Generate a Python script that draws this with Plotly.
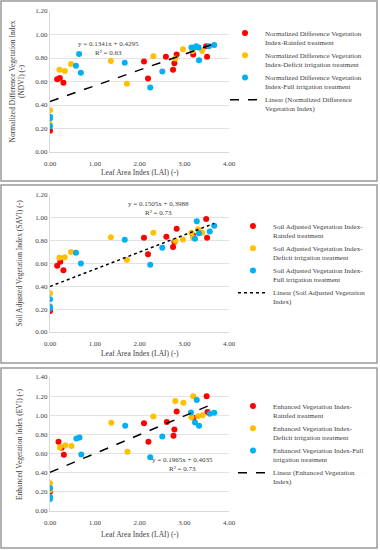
import plotly.graph_objects as go

W, H = 380, 550

# ---------------- data ----------------
# Panel 1: NDVI
ndvi_rain_lai = [0.00, 0.16, 0.22, 0.30, 2.10, 2.19, 2.59, 2.75, 2.78, 2.83, 3.20, 3.49, 3.51]
ndvi_rain_val = [0.18, 0.62, 0.63, 0.59, 0.77, 0.625, 0.81, 0.70, 0.755, 0.83, 0.83, 0.90, 0.81]
ndvi_def_lai = [0.00, 0.00, 0.21, 0.33, 0.47, 1.36, 1.72, 2.31, 2.80, 2.97, 3.18, 3.40]
ndvi_def_val = [0.355, 0.236, 0.70, 0.69, 0.75, 0.775, 0.58, 0.815, 0.795, 0.875, 0.86, 0.86]
ndvi_full_lai = [0.00, 0.00, 0.00, 0.58, 0.65, 0.69, 1.67, 2.24, 2.51, 3.16, 3.23, 3.27, 3.32, 3.33, 3.55, 3.67]
ndvi_full_val = [0.30, 0.285, 0.22, 0.735, 0.835, 0.675, 0.76, 0.55, 0.685, 0.89, 0.89, 0.90, 0.89, 0.78, 0.90, 0.91]
ndvi_slope, ndvi_icpt, ndvi_r2 = 0.1341, 0.4295, 0.63

# Panel 2: SAVI
savi_rain_lai = [0.00, 0.16, 0.23, 0.30, 2.10, 2.19, 2.60, 2.75, 2.78, 2.83, 3.20, 3.49, 3.51]
savi_rain_val = [0.185, 0.58, 0.615, 0.54, 0.825, 0.68, 0.835, 0.745, 0.79, 0.905, 0.845, 0.99, 0.825]
savi_def_lai = [0.00, 0.00, 0.21, 0.33, 0.47, 1.36, 1.72, 2.31, 2.80, 2.97, 3.16, 3.20, 3.31, 3.40]
savi_def_val = [0.34, 0.225, 0.65, 0.655, 0.70, 0.83, 0.63, 0.87, 0.80, 0.81, 0.87, 0.825, 0.90, 0.87]
savi_full_lai = [0.00, 0.00, 0.00, 0.58, 0.69, 1.67, 2.24, 2.51, 3.24, 3.28, 3.33, 3.57, 3.67]
savi_full_val = [0.287, 0.22, 0.205, 0.695, 0.60, 0.808, 0.588, 0.737, 0.816, 0.97, 0.865, 0.88, 0.93]
savi_slope, savi_icpt, savi_r2 = 0.1505, 0.3988, 0.73

# Panel 3: EVI
evi_rain_lai = [0.00, 0.19, 0.26, 0.31, 2.10, 2.20, 2.61, 2.76, 2.78, 2.83, 3.21, 3.50, 3.52]
evi_rain_val = [0.20, 0.723, 0.66, 0.587, 0.918, 0.723, 0.929, 0.786, 0.852, 1.04, 0.974, 1.198, 1.034]
evi_def_lai = [0.00, 0.00, 0.22, 0.34, 0.48, 1.37, 1.73, 2.31, 2.80, 2.98, 3.20, 3.16, 3.31, 3.41]
evi_def_val = [0.29, 0.22, 0.663, 0.688, 0.68, 0.922, 0.62, 0.988, 1.149, 1.131, 1.20, 0.98, 0.99, 1.00]
evi_full_lai = [0.00, 0.00, 0.00, 0.59, 0.66, 0.70, 1.68, 2.24, 2.51, 3.15, 3.28, 3.24, 3.33, 3.57, 3.67]
evi_full_val = [0.24, 0.15, 0.126, 0.758, 0.768, 0.59, 0.89, 0.562, 0.779, 1.03, 1.16, 0.925, 0.89, 1.016, 1.027]
evi_slope, evi_icpt, evi_r2 = 0.1965, 0.4035, 0.73

x_ticks = [0, 1, 2, 3, 4]
x_tick_labels = ["0.00", "1.00", "2.00", "3.00", "4.00"]

RED, YEL, BLU = "#FF0000", "#FFC000", "#00B0F0"
FONT = "Liberation Serif"
TXT = "#404040"

def px_x(p):
    return p / W

def px_y(p):
    return 1 - p / H

panels = [
    dict(
        name="NDVI",
        series=[
            (ndvi_rain_lai, ndvi_rain_val, RED, "Normalized Difference Vegetation<br>Index-Rainfed treatment"),
            (ndvi_def_lai, ndvi_def_val, YEL, "Normalized Difference Vegetation<br>Index-Deficit irrigation treatment"),
            (ndvi_full_lai, ndvi_full_val, BLU, "Normalized Difference Vegetation<br>Index-Full irrigation treatment"),
        ],
        fit=(ndvi_slope, ndvi_icpt, ndvi_r2),
        fit_name="Linear (Normalized Difference<br>Vegetation Index)",
        dash="dash",
        ytitle="Normalized Difference Vegetation Index<br>(NDVI) (-)", ytitle_x=17,
        ymax=1.2, ytop=11, ybot=152, xtitle_y=172,
        eq_xy=(108, 38),
        box=(1, 1, 377, 181),
        legend_xy=(225, 22),
    ),
    dict(
        name="SAVI",
        series=[
            (savi_rain_lai, savi_rain_val, RED, "Soil Adjusted Vegetation Index-<br>Rainfed treatment"),
            (savi_def_lai, savi_def_val, YEL, "Soil Adjusted Vegetation Index-<br>Deficit irrigation treatment"),
            (savi_full_lai, savi_full_val, BLU, "Soil Adjusted Vegetation Index-<br>Full irrigation treatment"),
        ],
        fit=(savi_slope, savi_icpt, savi_r2),
        fit_name="Linear (Soil Adjusted Vegetation<br>Index)",
        dash="dot",
        ytitle="Soil Adjusted Vegetation Index (SAVI) (-)", ytitle_x=19,
        ymax=1.2, ytop=195, ybot=332, xtitle_y=353,
        eq_xy=(158, 198),
        box=(1, 185, 377, 363),
        legend_xy=(233, 215),
    ),
    dict(
        name="EVI",
        series=[
            (evi_rain_lai, evi_rain_val, RED, "Enhanced Vegetation Index-<br>Rainfed treatment"),
            (evi_def_lai, evi_def_val, YEL, "Enhanced Vegetation Index-<br>Deficit irrigation treatment"),
            (evi_full_lai, evi_full_val, BLU, "Enhanced Vegetation Index-Full<br>irrigation treatment"),
        ],
        fit=(evi_slope, evi_icpt, evi_r2),
        fit_name="Linear (Enhanced Vegetation<br>Index)",
        dash="dash",
        ytitle="Enhanced Vegetation Index (EVI) (-)", ytitle_x=19,
        ymax=1.4, ytop=377, ybot=511, xtitle_y=534,
        eq_xy=(182, 454),
        box=(1, 368, 377, 548),
        legend_xy=(233, 395),
    ),
]

fig = go.Figure()
layout = dict(
    width=W, height=H,
    margin=dict(l=0, r=0, t=0, b=0, autoexpand=False),
    paper_bgcolor="white", plot_bgcolor="white",
    font=dict(family=FONT, size=7, color=TXT),
    shapes=[], annotations=[],
)

X0, X1 = 50, 229
for i, p in enumerate(panels):
    k = "" if i == 0 else str(i + 1)
    xa, ya = "x" + k, "y" + k
    leg = "legend" + k
    for j, (xs, ys, col, nm) in enumerate(p["series"]):
        fig.add_trace(go.Scatter(
            x=xs, y=ys, mode="markers", name=nm,
            marker=dict(color=col, size=6),
            xaxis=xa, yaxis=ya, legend=leg, legendgroup=f"{p['name']}{j}",
        ))
    slope, icpt, r2 = p["fit"]
    all_x = [v for s in p["series"] for v in s[0]]
    xl = [0, max(all_x)]
    yl = [icpt + slope * v for v in xl]
    fig.add_trace(go.Scatter(
        x=xl, y=yl, mode="lines", name=p["fit_name"],
        line=dict(color="black", width=1.5, dash=p["dash"]),
        xaxis=xa, yaxis=ya, legend=leg, legendgroup=f"{p['name']}fit",
    ))
    nt = int(round(p["ymax"] / 0.2)) + 1
    yt = [round(0.2 * t, 2) for t in range(nt)]
    layout["xaxis" + k] = dict(
        domain=[px_x(X0), px_x(X1)], range=[0, 4], anchor=ya,
        tickvals=x_ticks, ticktext=x_tick_labels, showgrid=False,
        showline=True, linecolor="#d9d9d9", linewidth=1, zeroline=False,
        ticks="", ticklen=0, ticklabelstandoff=5,
        tickfont=dict(size=7, color=TXT, family=FONT),
        automargin=False,
    )
    layout["yaxis" + k] = dict(
        domain=[px_y(p["ybot"]), px_y(p["ytop"])], range=[0, p["ymax"]], anchor=xa,
        tickvals=yt, ticktext=[f"{v:.2f}" for v in yt],
        showgrid=True, gridcolor="#e3e3e3", gridwidth=1,
        showline=True, linecolor="#d9d9d9", linewidth=1, zeroline=False,
        ticks="", tickfont=dict(size=7, color=TXT, family=FONT),
        automargin=False,
    )
    # axis titles as annotations
    layout["annotations"].append(dict(
        xref="paper", yref="paper", x=px_x((X0 + X1) / 2), y=px_y(p["xtitle_y"]),
        xanchor="center", yanchor="middle", text="Leaf Area Index (LAI) (-)",
        showarrow=False, font=dict(size=7.5, color=TXT, family=FONT),
    ))
    layout["annotations"].append(dict(
        xref="paper", yref="paper", x=px_x(p["ytitle_x"]), y=px_y((p["ytop"] + p["ybot"]) / 2),
        xanchor="center", yanchor="middle", text=p["ytitle"], textangle=-90,
        showarrow=False, font=dict(size=7.5, color=TXT, family=FONT), align="center",
    ))
    lx, ly = p["legend_xy"]
    layout[leg] = dict(
        x=px_x(lx), y=px_y(ly), xanchor="left", yanchor="top",
        font=dict(size=7, color=TXT, family=FONT), bgcolor="rgba(0,0,0,0)",
        tracegroupgap=1, valign="top", itemwidth=30,
    )
    bx0, by0, bx1, by1 = p["box"]
    layout["shapes"].append(dict(
        type="rect", xref="paper", yref="paper",
        x0=px_x(bx0), x1=px_x(bx1), y0=px_y(by1), y1=px_y(by0),
        line=dict(color="#9a9a9a", width=1.5), fillcolor="rgba(0,0,0,0)", layer="below",
    ))
    ex, ey = p["eq_xy"]
    layout["annotations"].append(dict(
        xref="paper", yref="paper", x=px_x(ex), y=px_y(ey), xanchor="center", yanchor="top",
        text=f"y = {slope:.4f}x + {icpt:.4f}<br>R² = {r2:.2f}", showarrow=False,
        font=dict(size=7, color=TXT, family=FONT), align="center",
    ))

fig.update_layout(**layout)
fig.write_html(
    "out.html",
    config={"displayModeBar": False},
    post_script="document.body.style.margin='0';document.body.style.overflow='hidden';",
)
